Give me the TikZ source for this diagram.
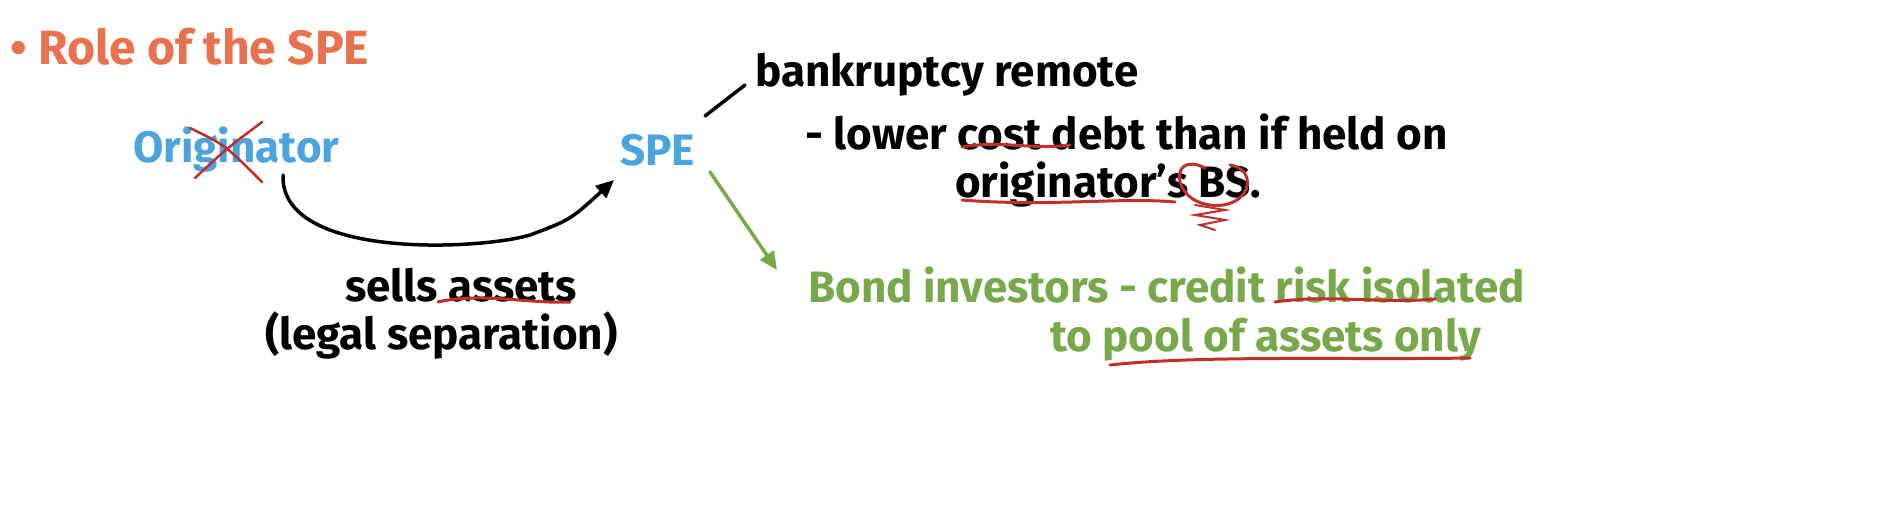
\documentclass[tikz,border=0pt]{standalone}
\usepackage{fontspec}
\setmainfont{Fira Sans}
\usetikzlibrary{arrows.meta}
\definecolor{ora}{HTML}{E8714F}
\definecolor{blu}{HTML}{4BA3E0}
\definecolor{grn}{HTML}{77A84A}
\definecolor{rd}{HTML}{C0302A}
\tikzset{txt/.style={font=\fontsize{44}{52}\selectfont\bfseries, inner sep=0pt, anchor=west},
 red/.style={rd, line width=3pt, line cap=round}}
\begin{document}
\begin{tikzpicture}[x=1pt,y=-1pt]
\useasboundingbox (0,0) rectangle (1894,506);
\node[txt, ora, font=\fontsize{48}{56}\selectfont\bfseries] (title) at (10,47) {• Role of the SPE};
\node[txt, blu] (orig) at (133,150) {Originator};
\draw[red,line width=2.5pt] (190,128) .. controls (225,145) .. (262,182);
\draw[red,line width=2.5pt] (262,122) .. controls (225,150) .. (195,178);
\node[txt, blu] (spe) at (620,150) {SPE};
\coordinate (b0) at (705,116); \coordinate (b1) at (745,85);
\draw[line width=3.5pt,line cap=round] (b0) -- (b1);
\node[txt] (bank) at (755,75) {bankruptcy remote};
\node[txt] (lower) at (805,132) {- lower cost debt than if held on};
\node[txt] (bs) at (955,185) {originator’s BS.};
\draw[red] (962,147) .. controls (1000,140) and (1030,150) .. (1070,145);
\draw[red] (962,200) .. controls (1050,207) and (1120,197) .. (1175,202);
\draw[red] (1205,168) .. controls (1170,150) and (1170,200) .. (1210,205) .. controls (1250,210) and (1260,170) .. (1230,165);
\draw[red,line width=2pt] (1195,205) -- (1225,210) -- (1195,215) -- (1225,220) -- (1200,225) -- (1215,230);
\coordinate (c0) at (283,175);
\draw[line width=3.5pt,line cap=round,-{Triangle[length=18pt,width=16pt]}] (c0) .. controls (280,260) and (480,250) .. (530,235) .. controls (570,220) .. (614,180);
\node[txt] (sells) at (345,285) {sells assets};
\draw[red] (438,302) .. controls (480,292) and (530,304) .. (570,302);
\node[txt] (legal) at (265,335) {(legal separation)};
\coordinate (g0) at (710,172); \coordinate (g1) at (777,270);
\draw[grn, line width=3.5pt, line cap=round, -{Triangle[length=18pt,width=16pt]}] (g0) -- (g1);
\node[txt, grn] (bond) at (808,285) {Bond investors - credit risk isolated};
\node[txt, grn] (pool) at (1050,340) {to pool of assets only};
\draw[red] (1275,302) .. controls (1330,294) and (1380,304) .. (1435,299);
\draw[red] (1110,365) .. controls (1200,355) and (1350,360) .. (1470,358);
\end{tikzpicture}
\end{document}
